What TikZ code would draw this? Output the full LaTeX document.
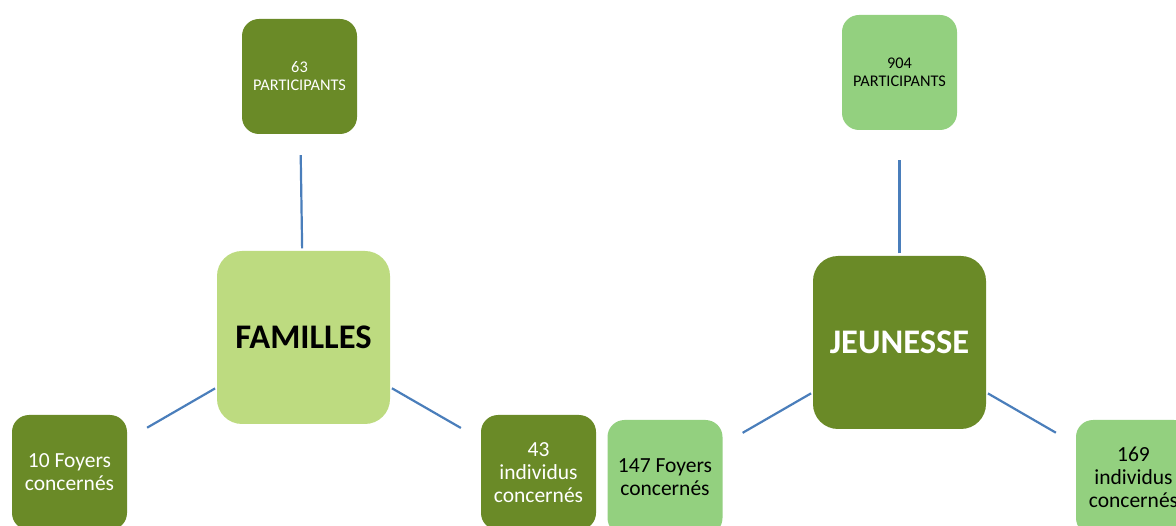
\documentclass[tikz,border=0pt]{standalone}
\usepackage{fontspec}
\setmainfont{Carlito}
\usetikzlibrary{positioning}
\definecolor{olivebox}{HTML}{6A8A27}
\definecolor{palebox}{HTML}{BDDB80}
\definecolor{leafbox}{HTML}{93D07F}
\definecolor{linkblue}{HTML}{4A7EBB}
\tikzset{
  hub/.style={rounded corners=25pt, minimum size=173pt, inner sep=0pt, align=center,
    font=\fontsize{34.5}{40}\selectfont\bfseries},
  leaf/.style={rounded corners=17pt, minimum size=115pt, inner sep=0pt, align=center,
    font=\fontsize{21.5}{23}\selectfont},
  tinytext/.style={font=\fontsize{16.3}{18}\selectfont},
  darkbox/.style={fill=olivebox, text=white},
  lightbox/.style={fill=leafbox, text=black},
  link/.style={draw=linkblue, line width=2.2pt, shorten <=2pt, shorten >=23pt},
  uplink/.style={draw=linkblue, line width=2.2pt, shorten <=2.5pt, shorten >=21pt}
}
\begin{document}
\begin{tikzpicture}[x=1pt,y=-1pt]
\useasboundingbox (0,0) rectangle (1176,526);
% familles side
\node[hub, fill=palebox] (familles) at (303.5,337.5) {FAMILLES};
\node[leaf, darkbox, tinytext] (partfam) at (299.5,76.5) {63\\PARTICIPANTS};
\node[leaf, darkbox] (foyfam) at (69.5,472.5) {10 Foyers\\concernés};
\node[leaf, darkbox] (indfam) at (538.5,472.5) {43\\individus\\concernés};
% jeunesse side
\node[hub, darkbox] (jeunesse) at (899.5,342.5) {JEUNESSE};
\node[leaf, lightbox, tinytext] (partjeu) at (899.5,72.5) {904\\PARTICIPANTS};
\node[leaf, lightbox] (foyjeu) at (665,477.5) {147 Foyers\\concernés};
\node[leaf, lightbox] (indjeu) at (1133.5,477.5) {169\\individus\\concernés};
% connectors
\draw[uplink] (familles) -- (partfam);
\draw[uplink, shorten >=30pt] (jeunesse) -- (partjeu);
\foreach \a/\b in {familles/foyfam, familles/indfam, jeunesse/foyjeu, jeunesse/indjeu}
  \draw[link] (\a) -- (\b);
\end{tikzpicture}
\end{document}
